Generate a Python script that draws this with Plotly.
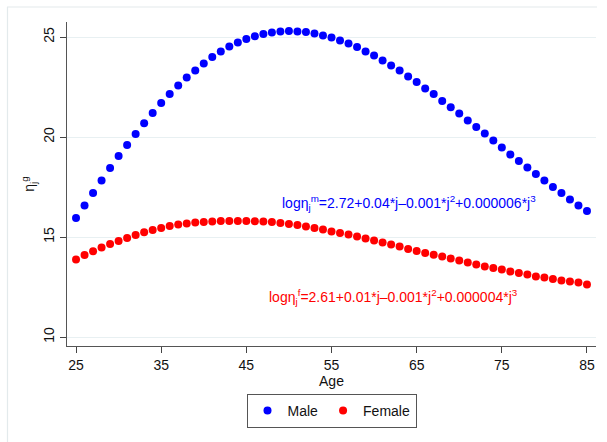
import plotly.graph_objects as go

ages = list(range(25, 86))

male = [15.95, 16.58, 17.20, 17.83, 18.45, 19.05, 19.60, 20.15, 20.69, 21.20,
        21.70, 22.15, 22.58, 22.97, 23.33, 23.68, 24.00, 24.27, 24.52, 24.73,
        24.90, 25.04, 25.15, 25.22, 25.27, 25.30, 25.28, 25.25, 25.18, 25.08,
        24.97, 24.83, 24.67, 24.50, 24.28, 24.08, 23.83, 23.58, 23.32, 23.03,
        22.75, 22.43, 22.15, 21.80, 21.49, 21.17, 20.83, 20.50, 20.17, 19.82,
        19.47, 19.13, 18.80, 18.47, 18.15, 17.83, 17.50, 17.20, 16.88, 16.58,
        16.30]

female = [13.87, 14.10, 14.29, 14.47, 14.65, 14.80, 14.95, 15.10, 15.24, 15.35,
          15.45, 15.55, 15.62, 15.67, 15.72, 15.75, 15.78, 15.80, 15.80, 15.80,
          15.80, 15.79, 15.77, 15.75, 15.70, 15.65, 15.60, 15.53, 15.45, 15.37,
          15.28, 15.20, 15.12, 15.02, 14.92, 14.82, 14.72, 14.62, 14.52, 14.40,
          14.30, 14.20, 14.11, 14.03, 13.93, 13.83, 13.72, 13.63, 13.53, 13.45,
          13.37, 13.28, 13.20, 13.12, 13.03, 12.97, 12.90, 12.83, 12.78, 12.72,
          12.63]

x_ticks = [25, 35, 45, 55, 65, 75, 85]
y_ticks = [10, 15, 20, 25]

series_names = ["Male", "Female"]
series_colors = ["#0000ff", "#ff0000"]

male_eq = "logη<sub>j</sub><sup>m</sup>=2.72+0.04*j–0.001*j<sup>2</sup>+0.000006*j<sup>3</sup>"
female_eq = "logη<sub>j</sub><sup>f</sup>=2.61+0.01*j–0.001*j<sup>2</sup>+0.000004*j<sup>3</sup>"

FONT = "Arial, Liberation Sans, sans-serif"

fig = go.Figure()
for name, vals, col in zip(series_names, [male, female], series_colors):
    fig.add_trace(go.Scatter(
        x=ages, y=vals, mode="markers", name=name,
        marker=dict(color=col, size=8, line=dict(width=0)),
    ))

fig.add_annotation(x=49.0, y=16.69, xref="x", yref="y", text=male_eq,
                   showarrow=False, xanchor="left", yanchor="middle",
                   font=dict(family=FONT, size=14, color="#0000ff"))
fig.add_annotation(x=47.43, y=12.02, xref="x", yref="y", text=female_eq,
                   showarrow=False, xanchor="left", yanchor="middle",
                   font=dict(family=FONT, size=14, color="#ff0000"))

# outer frame lines (top and left)
fig.add_shape(type="line", xref="paper", yref="paper",
              x0=-60/529, x1=530/529, y0=(442-7-96)/324, y1=(442-7-96)/324,
              line=dict(color="#e3eaec", width=1.2))
fig.add_shape(type="line", xref="paper", yref="paper",
              x0=-59.5/529, x1=-59.5/529, y0=(442-7-96)/324, y1=-96/324,
              line=dict(color="#e3eaec", width=1.2))

fig.update_layout(
    width=607, height=442,
    margin=dict(l=67, r=11, t=22, b=96),
    paper_bgcolor="white", plot_bgcolor="white",
    font=dict(family=FONT, size=14, color="#111111"),
    showlegend=True,
    legend=dict(orientation="h", x=0.5, xanchor="center", y=-48/324, yanchor="top",
                bordercolor="#555555", borderwidth=1, bgcolor="white",
                font=dict(family=FONT, size=14, color="#111111")),
    xaxis=dict(range=[23.94, 86.06], tickvals=x_ticks, ticks="outside", ticklen=6,
               tickcolor="#444444", showline=True, linecolor="#555555", linewidth=1.2,
               showgrid=False, zeroline=False,
               title=dict(text="Age", standoff=4, font=dict(size=14))),
    yaxis=dict(range=[9.55, 25.75], tickvals=y_ticks, ticks="outside", ticklen=6,
               tickangle=-90, tickcolor="#444444", showline=True, linecolor="#555555",
               linewidth=1.2, showgrid=True, gridcolor="#e8f0f2", gridwidth=1,
               zeroline=False,
               title=dict(text="η<sub>j</sub><sup>g</sup>", standoff=3, font=dict(size=14))),
)

fig.write_html("out.html", config={"displayModeBar": False},
               post_script="document.body.style.margin='0px';")
